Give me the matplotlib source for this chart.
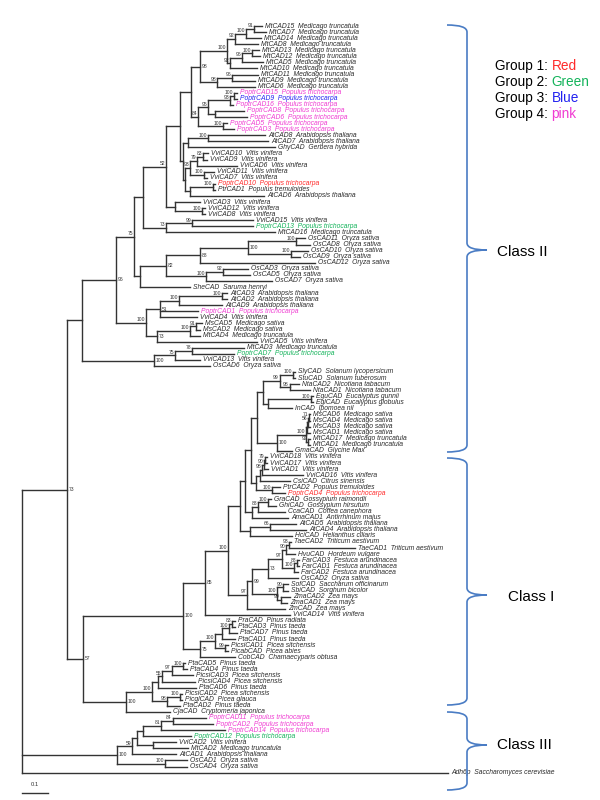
import matplotlib
matplotlib.use("Agg")
import matplotlib.pyplot as plt
from matplotlib.collections import LineCollection
from matplotlib.path import Path
from matplotlib.patches import PathPatch
from matplotlib.transforms import Affine2D

# Newick subtrees (branch lengths in substitutions/site, bootstrap as node names)
CLASS_II = """
(
 (
  (
   (
    (
     (
      (
       (
        (
         (((MtCAD15:0.031,MtCAD7:0.046)91:0.031,MtCAD14:0.058)100:0.042,MtCAD8:0.088)92:0.031,
         (((MtCAD13:0.027,MtCAD12:0.031)100:0.038,MtCAD5:0.081)96:0.046,MtCAD10:0.104)92:0.012
        )100:0.104,
        ((MtCAD11:0.100,MtCAD9:0.088)96:0.058,MtCAD6:0.146)98:0.065
       )98:0.035,
       ((((PoptrCAD15:0.012,PoptrCAD9:0.012)100:0.015,PoptrCAD16:0.012)93:0.085,
         (PoptrCAD8:0.112,PoptrCAD6:0.123):0.027)95:0.038,
        (PoptrCAD5:0.015,PoptrCAD3:0.042)100:0.096)84:0.027
      ):0.042,
      (((AtCAD8:0.219,AtCAD7:0.231)100:0.077,GhyCAD:0.335):0.019,
       ((((VviCAD10:0.019,VviCAD9:0.015)83:0.023,VviCAD6:0.154)79:0.027,
         (VviCAD11:0.038,VviCAD7:0.012)100:0.054)93:0.019,
        ((PoptrCAD10:0.008,PtrCAD1:0.008)100:0.088,AtCAD6:0.285):0.019):0.008):0.012
     ):0.054,
     (VviCAD3:0.096,(VviCAD12:0.012,VviCAD8:0.012)100:0.104):0.035
    )52:0.088,
    ((VviCAD15:0.235,PoptrCAD13:0.235)99:0.100,MtCAD16:0.419)73:0.088
   ):0.035,
   (((((OsCAD11:0.035,OsCAD8:0.054)100:0.185,(OsCAD10:0.065,OsCAD9:0.035)100:0.165)100:0.185,
      OsCAD12:0.442)88:0.131,
     ((OsCAD3:0.096,OsCAD5:0.104)92:0.065,OsCAD7:0.254)100:0.154)82:0.100,
    SheCAD:0.192):0.023
  )75:0.069,
  ((((AtCAD3:0.019,AtCAD2:0.019)100:0.165,AtCAD9:0.165)100:0.073,PoptrCAD1:0.146,VviCAD4:0.142)51:0.054,
   (((MsCAD5:0.023,MsCAD2:0.015)91:0.023,MtCAD4:0.038)100:0.127,VviCAD5:0.385)73:0.042)100:0.115
 )96:0.131,
 (((MtCAD3:0.200,PoptrCAD7:0.162)78:0.065,VviCAD13:0.096)75:0.081,OsCAD6:0.215)100:0.277
)
"""

CLASS_I = """
(
 (
  (
   (
    (
     (
      (
       (
        (((SlyCAD:0.008,StuCAD:0.008)100:0.050,(NtaCAD2:0.035,NtaCAD1:0.077)98:0.038)99:0.065,
         ((EguCAD:0.008,EglCAD:0.008)100:0.165,InCAD:0.092):0.019):0.023,
        (((((MsCAD6:0.004,MsCAD4:0.004)71:0.004,MsCAD3:0.008)56:0.004,MsCAD1:0.012):0.004,
          (MtCAD17:0.008,MtCAD1:0.008)92:0.008)100:0.112,GmaCAD:0.058)100:0.077
       ):0.023,
       (((((VviCAD18:0.008,VviCAD17:0.008)79:0.004,VviCAD1:0.015)90:0.008,VviCAD16:0.158)98:0.008,
         CsiCAD:0.115):0.015,(PtrCAD2:0.031,PoptrCAD4:0.050)100:0.062):0.019
      ):0.023,
      (((GraCAD:0.012,GhiCAD:0.031)100:0.038,CcaCAD:0.104)88:0.023,AmaCAD1:0.138):0.027
     ):0.019,
     ((AtCAD5:0.100,AtCAD4:0.138)66:0.077,HciCAD:0.162):0.038
    ):0.046,
    ((((((TaeCAD2:0.008,TaeCAD1:0.254)93:0.012,HvuCAD:0.035)90:0.015,
        ((FarCAD3:0.008,FarCAD1:0.008)88:0.012,FarCAD2:0.015)100:0.046)97:0.054,OsCAD2:0.115)73:0.062,
      ((SofCAD:0.019,SbiCAD:0.019)90:0.023,(ZmaCAD2:0.035,ZmaCAD1:0.023)90:0.015)100:0.096)99:0.019,
     ZmCAD:0.146)97:0.073
   )100:0.088,
   VviCAD14:0.327
  )85:0.085,
  (((((PraCAD:0.012,PtaCAD3:0.012)83:0.012,PtaCAD7:0.031)100:0.027,PtaCAD1:0.050):0.027,
    (PicsiCAD1:0.012,PicabCAD:0.012)99:0.038)100:0.058,CobCAD:0.135)75:0.065
 )100:0.385,
 ((((((PtaCAD5:0.008,PtaCAD4:0.015)100:0.042,PicsiCAD3:0.081)97:0.038,PicsiCAD4:0.127)55:0.015,
    PtaCAD6:0.146):0.023,
   ((PicsiCAD2:0.008,PicglCAD:0.008)100:0.050,PtaCAD2:0.050)98:0.058)100:0.100,
  CjaCAD:0.169)100:0.165
)57
"""

CLASS_III = """
((((((PoptrCAD11:0.127,PoptrCAD2:0.154)84:0.046,PoptrCAD14:0.246)81:0.069,PoptrCAD12:0.185):0.023,
    (VviCAD2:0.088,MtCAD2:0.135):0.062):0.019,AtCAD1:0.169)59:0.058,
 (OsCAD1:0.085,OsCAD4:0.085)100:0.185)100
"""

TREE = ("((" + CLASS_II + ":0.058," + CLASS_I + ":0.062)73:0.173,"
        + CLASS_III + ":0.365,Adh6p:1.638);")

SPECIES = {
    "Mt": "Medicago truncatula", "Ms": "Medicago sativa",
    "Poptr": "Populus trichocarpa", "Ptr": "Populus tremuloides",
    "At": "Arabidopsis thaliana", "Ghy": "Gerbera hybrida",
    "Vvi": "Vitis vinifera", "Os": "Oryza sativa", "She": "Saruma henryi",
    "Sly": "Solanum lycopersicum", "Stu": "Solanum tuberosum",
    "Nta": "Nicotiana tabacum", "Egu": "Eucalyptus gunnii",
    "Egl": "Eucalyptus globulus", "In": "Ipomoea nil", "Gma": "Glycine Max",
    "Csi": "Citrus sinensis", "Gra": "Gossypium raimondii",
    "Ghi": "Gossypium hirsutum", "Cca": "Coffea canephora",
    "Ama": "Antirrhinum majus", "Hci": "Helianthus ciliaris",
    "Tae": "Triticum aestivum", "Hvu": "Hordeum vulgare",
    "Far": "Festuca arundinacea", "Sof": "Saccharum officinarum",
    "Sbi": "Sorghum bicolor", "Zma": "Zea mays", "Zm": "Zea mays",
    "Pra": "Pinus radiata", "Pta": "Pinus taeda", "Picsi": "Picea sitchensis",
    "Picab": "Picea abies", "Picgl": "Picea glauca",
    "Cob": "Chamaecyparis obtusa", "Cja": "Cryptomeria japonica",
    "Adh6p": "Saccharomyces cerevisiae",
}

GROUP_1 = ["PoptrCAD10", "PoptrCAD4"]
GROUP_2 = ["PoptrCAD13", "PoptrCAD7", "PoptrCAD12"]
GROUP_3 = ["PoptrCAD9"]
GROUP_4 = ["PoptrCAD15", "PoptrCAD16", "PoptrCAD8", "PoptrCAD6", "PoptrCAD5",
           "PoptrCAD3", "PoptrCAD1", "PoptrCAD11", "PoptrCAD2", "PoptrCAD14"]
GROUP_NAMES = ["Red", "Green", "Blue", "pink"]
CLASS_NAMES = ["Class II", "Class I", "Class III"]

COLORS = ["#ff2a2a", "#13b35a", "#2323f0", "#f03cd2"]
LINE_C = "#333333"
BRACE_C = "#4a7cc4"


def parse_newick(text):
    s = "".join(text.split())
    pos = 0

    def node():
        nonlocal pos
        n = {"children": [], "name": "", "length": 0.0}
        if s[pos] == "(":
            pos += 1
            while True:
                n["children"].append(node())
                if s[pos] == ",":
                    pos += 1
                    continue
                pos += 1
                break
        start = pos
        while s[pos] not in ":,);":
            pos += 1
        n["name"] = s[start:pos]
        if s[pos] == ":":
            pos += 1
            start = pos
            while s[pos] not in ",);":
                pos += 1
            n["length"] = float(s[start:pos])
        return n

    return node()


root = parse_newick(TREE)
leaves, internals = [], []


def layout(n, x0):
    n["x"] = x0 + n["length"]
    if n["children"]:
        for c in n["children"]:
            layout(c, n["x"])
        n["y"] = (n["children"][0]["y"] + n["children"][-1]["y"]) / 2
        internals.append(n)
    else:
        n["y"] = len(leaves)
        leaves.append(n)


layout(root, 0.0)

# pixel geometry of the figure
W, H = 600, 800
X0, PPU = 22, 260.0      # root position, pixels per substitution unit
Y0, ROW = 26, 6.07       # first leaf, leaf spacing
PX = 1 / PPU

fig = plt.figure(figsize=(6, 8), dpi=100)
ax = fig.add_axes([0, 0, 1, 1])
ax.set_xlim(-X0 / PPU, (W - X0) / PPU)
ax.set_ylim((H - Y0) / ROW, -Y0 / ROW)
ax.axis("off")

segs = []
for n in internals:
    ys = [c["y"] for c in n["children"]]
    segs.append([(n["x"], min(ys)), (n["x"], max(ys))])
    for c in n["children"]:
        segs.append([(n["x"], c["y"]), (c["x"], c["y"])])
ax.add_collection(LineCollection(segs, colors=LINE_C, linewidths=1.0,
                                 capstyle="projecting"))

color_of = {}
for grp, col in zip([GROUP_1, GROUP_2, GROUP_3, GROUP_4], COLORS):
    for g in grp:
        color_of[g] = col

for lf in leaves:
    name = lf["name"]
    sp = SPECIES[name.split("CAD")[0]]
    ax.text(lf["x"] + 3 * PX, lf["y"], f"{name}  {sp}", fontsize=4.9,
            style="italic", family="Liberation Sans",
            color=color_of.get(name, "#2a2a2a"), ha="left", va="center")

# bootstrap values: left of the node when the children sit close by
for n in internals:
    if not n["name"]:
        continue
    ys = [c["y"] for c in n["children"]]
    span = max(ys) - min(ys)
    gap = (min(c["x"] for c in n["children"]) - n["x"]) * PPU
    if span <= 1.6 or gap < 12:
        ax.text(n["x"] - 1 * PX, n["y"] - 0.1, n["name"], fontsize=3.6,
                family="Liberation Sans", color="#333333", ha="right", va="bottom")
    else:
        ax.text(n["x"] + 1.5 * PX, n["y"], n["name"], fontsize=3.6,
                family="Liberation Sans", color="#333333", ha="left", va="center")

# scale bar
sb_y = (793 - Y0) / ROW
ax.plot([0, 0.1], [sb_y, sb_y], color=LINE_C, lw=1.0)
ax.text(0.05, sb_y - 1.0, "0.1", fontsize=4.2, family="Liberation Sans",
        ha="center", va="bottom", color="#333333")

# pixel transform for annotations
tpx = Affine2D().scale(1 / W, -1 / H).translate(0, 1) + fig.transFigure


def brace(x, top, mid, bot, w=20, tip=20, r=7):
    verts = [(x - w, top), (x, top), (x, top + r),
             (x, mid - r), (x, mid), (x + tip, mid),
             (x, mid), (x, mid + r),
             (x, bot - r), (x, bot), (x - w, bot)]
    codes = [Path.MOVETO, Path.CURVE3, Path.CURVE3,
             Path.LINETO, Path.CURVE3, Path.CURVE3,
             Path.CURVE3, Path.CURVE3,
             Path.LINETO, Path.CURVE3, Path.CURVE3]
    fig.add_artist(PathPatch(Path(verts, codes), fill=False, ec=BRACE_C,
                             lw=1.2, transform=tpx))


brace(467, 25, 250, 452)
brace(467, 458, 595, 705)
brace(467, 712, 745, 790)
for name, y, x in zip(CLASS_NAMES, [252, 597, 745], [497, 508, 497]):
    fig.text(x, y, name, transform=tpx, fontsize=11, family="Liberation Sans",
             ha="left", va="center", color="black")

for i, (gname, col) in enumerate(zip(GROUP_NAMES, COLORS)):
    t = fig.text(495, 66 + 16 * i, f"Group {i + 1}: ", transform=tpx, fontsize=9.8,
                 family="Liberation Sans", ha="left", va="center", color="black")
    ax.annotate(gname, xy=(1, 0), xycoords=t, fontsize=9.8,
                family="Liberation Sans", ha="left", va="bottom", color=col)

fig.savefig("out.png", dpi=100)
